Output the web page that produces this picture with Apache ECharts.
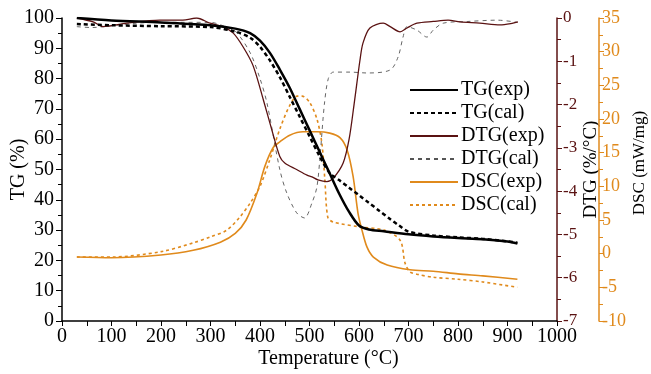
<!DOCTYPE html>
<html>
<head>
<meta charset="utf-8">
<script src="https://cdn.jsdelivr.net/npm/echarts@6/dist/echarts.min.js"></script>
<style>
  html, body {margin: 0; padding: 0; background: #fff;}
  #chart {width: 651px; height: 374px;}
</style>
</head>
<body>
<div id="chart"></div>
<script>
// [temperature (°C), value]
const tgExp = [[30, 100], [100, 99.2], [200, 98.5], [300, 97.6], [350, 96.5], [380, 95], [400, 92.5], [420, 88.5], [440, 83], [460, 77], [480, 70], [500, 63], [520, 56], [540, 49], [560, 42], [580, 36], [600, 31.5], [620, 30.2], [650, 29.6], [700, 28.6], [750, 27.9], [800, 27.4], [850, 27], [900, 26.2], [920, 25.6]];
const tgCal = [[30, 98], [100, 97.6], [200, 97.3], [300, 97], [350, 95.5], [380, 93.5], [400, 90.5], [420, 86], [440, 80.5], [460, 74], [480, 67.5], [500, 61], [520, 54.5], [541, 48.8], [560, 46.5], [580, 44], [600, 41.5], [620, 39], [640, 36.5], [660, 34], [680, 31.6], [700, 29.5], [750, 28.2], [800, 27.6], [850, 27.1], [900, 26.3], [920, 25.8]];
const dtgExp = [[30, 0], [63, -0.09], [83, -0.2], [131, -0.12], [198, -0.05], [244, -0.05], [272, 0], [299, -0.12], [325, -0.2], [346, -0.35], [366, -0.67], [386, -1.1], [407, -1.9], [424, -2.59], [440, -3.2], [450, -3.35], [474, -3.5], [495, -3.63], [505, -3.67], [517, -3.74], [535, -3.78], [548, -3.7], [568, -3.35], [580, -2.8], [590, -2], [602, -0.97], [608, -0.58], [622, -0.23], [649, -0.12], [663, -0.2], [683, -0.32], [697, -0.23], [717, -0.12], [750, -0.08], [780, -0.05], [804, -0.09], [844, -0.12], [885, -0.16], [911, -0.12], [921, -0.09]];
const dtgCal = [[30, -0.2], [60, -0.22], [100, -0.18], [150, -0.12], [200, -0.1], [300, -0.1], [330, -0.2], [350, -0.3], [380, -0.8], [400, -1.4], [414, -1.96], [440, -3.5], [454, -4.04], [474, -4.5], [490, -4.62], [505, -4.27], [515, -3.9], [522, -3.1], [530, -2.0], [538, -1.4], [548, -1.25], [582, -1.25], [616, -1.27], [663, -1.2], [679, -0.9], [689, -0.44], [697, -0.2], [717, -0.28], [737, -0.44], [750, -0.28], [770, -0.12], [820, -0.08], [880, -0.05], [920, -0.1]];
const dscExp = [[30, -0.5], [100, -0.6], [200, -0.2], [265, 0.5], [320, 1.7], [350, 3], [372, 5], [394, 9], [410, 13], [427, 15.8], [440, 16.6], [460, 17.6], [487, 18.1], [515, 18.1], [541, 17.9], [562, 17.2], [576, 15.4], [588, 11.5], [598, 6], [606, 3.5], [616, 1], [629, -0.5], [657, -1.7], [703, -2.4], [750, -2.6], [800, -3], [850, -3.3], [920, -3.8]];
const dscCal = [[30, -0.5], [100, -0.5], [200, 0.3], [265, 1.6], [300, 2.5], [333, 3.5], [360, 5.5], [380, 7.5], [400, 10], [420, 14], [440, 18.5], [460, 22], [475, 23.4], [485, 23.4], [500, 22.5], [515, 20], [525, 16.4], [531, 11], [537, 5.4], [548, 4.7], [600, 4], [650, 3.5], [683, 2], [693, -1.4], [703, -2.7], [720, -3.1], [750, -3.5], [800, -3.8], [850, -4.2], [920, -5]];
const xTicks = [0, 1000, 100];
const tgTicks = [0, 100, 10];
const dtgTicks = [-7, 0, 1];
const dscTicks = [-10, 35, 5];

const brown = '#5a1212';
const orange = '#e08a1c';
const font = 'Liberation Serif';

const chart = echarts.init(document.getElementById('chart'));

const axisLine = (c) => ({show: true, onZero: false, lineStyle: {color: c, width: 1.5}});

chart.setOption({
  animation: false,
  textStyle: {fontFamily: font},
  grid: {left: 62, right: 94, top: 18, bottom: 53, outerBoundsMode: 'none', containLabel: false},
  legend: {
    orient: 'vertical',
    left: 404, top: 75,
    itemWidth: 48, itemHeight: 14, itemGap: 3,
    itemStyle: {opacity: 0},
    textStyle: {fontFamily: font, fontSize: 20, lineHeight: 18, color: '#000', padding: [0, 0, 0, -2]},
    data: ['TG(exp)', 'TG(cal)', 'DTG(exp)', 'DTG(cal)', 'DSC(exp)', 'DSC(cal)']
  },
  xAxis: {
    type: 'value', min: xTicks[0], max: xTicks[1], interval: xTicks[2],
    name: 'Temperature (°C)', nameLocation: 'middle', nameGap: 28, nameMoveOverlap: false,
    nameTextStyle: {fontFamily: font, fontSize: 20, color: '#000', padding: [0, 0, 0, 38]},
    axisLine: axisLine('#000'),
    axisTick: {show: true, length: 5, lineStyle: {color: '#000'}},
    minorTick: {show: true, splitNumber: 2, length: 5, lineStyle: {color: '#000'}},
    axisLabel: {fontFamily: font, fontSize: 20, color: '#000', margin: 6, formatter: (v) => String(v)},
    splitLine: {show: false}
  },
  yAxis: [{
    type: 'value', min: tgTicks[0], max: tgTicks[1], interval: tgTicks[2],
    name: 'TG (%)', nameLocation: 'middle', nameGap: 33, nameRotate: 90, nameMoveOverlap: false,
    nameTextStyle: {fontFamily: font, fontSize: 20, color: '#000'},
    axisLine: axisLine('#000'),
    axisTick: {show: true, length: 6, lineStyle: {color: '#000'}},
    minorTick: {show: true, splitNumber: 2, length: 4, lineStyle: {color: '#000'}},
    axisLabel: {fontFamily: font, fontSize: 20, color: '#000', margin: 8},
    splitLine: {show: false}
  }, {
    type: 'value', position: 'right', offset: 0,
    min: dtgTicks[0], max: dtgTicks[1], interval: dtgTicks[2],
    name: 'DTG (%/°C)', nameLocation: 'middle', nameGap: 25, nameRotate: 90, nameMoveOverlap: false,
    nameTextStyle: {fontFamily: font, fontSize: 19, color: '#000'},
    axisLine: axisLine(brown),
    axisTick: {show: true, length: 5, lineStyle: {color: brown}},
    minorTick: {show: true, splitNumber: 2, length: 4, lineStyle: {color: brown}},
    axisLabel: {fontFamily: font, fontSize: 17, color: brown, margin: 6},
    splitLine: {show: false}
  }, {
    type: 'value', position: 'right', offset: 42,
    min: dscTicks[0], max: dscTicks[1], interval: dscTicks[2],
    name: 'DSC (mW/mg)', nameLocation: 'middle', nameGap: 32, nameRotate: 90, nameMoveOverlap: false,
    nameTextStyle: {fontFamily: font, fontSize: 17, color: '#000', padding: [0, 0, 0, 13]},
    axisLine: axisLine(orange),
    axisTick: {show: true, length: 5, lineStyle: {color: orange}},
    minorTick: {show: true, splitNumber: 2, length: 4, lineStyle: {color: orange}},
    axisLabel: {fontFamily: font, fontSize: 18, color: orange, margin: 3},
    splitLine: {show: false}
  }],
  series: [
    {name: 'TG(exp)', type: 'line', yAxisIndex: 0, data: tgExp, symbol: 'none', smooth: 0.3,
      lineStyle: {color: '#000', width: 2.5}, itemStyle: {color: '#000'}, z: 6},
    {name: 'TG(cal)', type: 'line', yAxisIndex: 0, data: tgCal, symbol: 'none', smooth: 0.3,
      lineStyle: {color: '#000', width: 2.5, type: [4, 3]}, itemStyle: {color: '#000'}, z: 5},
    {name: 'DTG(exp)', type: 'line', yAxisIndex: 1, data: dtgExp, symbol: 'none', smooth: 0.3,
      lineStyle: {color: brown, width: 1.3}, itemStyle: {color: brown}, z: 4},
    {name: 'DTG(cal)', type: 'line', yAxisIndex: 1, data: dtgCal, symbol: 'none', smooth: 0.3,
      lineStyle: {color: '#555', width: 0.9, type: [4, 4]}, itemStyle: {color: '#555'}, z: 3},
    {name: 'DSC(exp)', type: 'line', yAxisIndex: 2, data: dscExp, symbol: 'none', smooth: 0.3,
      lineStyle: {color: orange, width: 1.6}, itemStyle: {color: orange}, z: 2},
    {name: 'DSC(cal)', type: 'line', yAxisIndex: 2, data: dscCal, symbol: 'none', smooth: 0.3,
      lineStyle: {color: orange, width: 1.6, type: [3, 3]}, itemStyle: {color: orange}, z: 1}
  ]
});
</script>
</body>
</html>
